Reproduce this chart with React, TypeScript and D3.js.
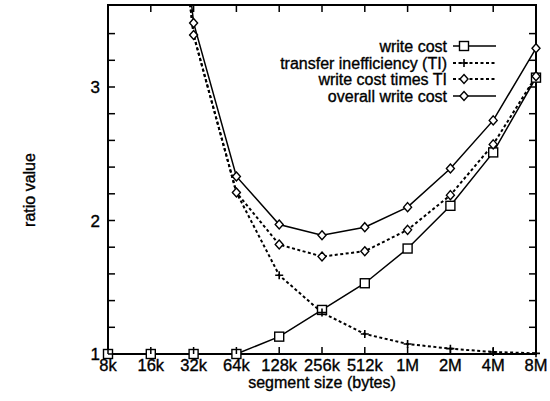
import React from "react";
import * as d3 from "d3";

const categories = ["8k", "16k", "32k", "64k", "128k", "256k", "512k", "1M", "2M", "4M", "8M"];
const writeCost = [1.0, 1.0, 1.0, 1.0, 1.13, 1.33, 1.53, 1.79, 2.11, 2.51, 3.07];
const transferIneff = [12.0, 6.2, 3.39, 2.21, 1.59, 1.31, 1.15, 1.075, 1.04, 1.015, 1.005];
const writeCostTimesTI = [12.0, 6.2, 3.39, 2.21, 1.82, 1.73, 1.77, 1.93, 2.19, 2.57, 3.08];
const overallWriteCost = [12.4, 6.4, 3.48, 2.33, 1.97, 1.89, 1.95, 2.1, 2.39, 2.75, 3.29];
const yLabeledTicks = [1, 2, 3];
const yMinorTicks = [1.2, 1.4, 1.6, 1.8, 2.2, 2.4, 2.6, 2.8, 3.2, 3.4];

const series = [
  { name: "write cost", values: writeCost, marker: "square", dash: null },
  { name: "transfer inefficiency (TI)", values: transferIneff, marker: "plus", dash: "3,2.5" },
  { name: "write cost times TI", values: writeCostTimesTI, marker: "diamond", dash: "3,2.5" },
  { name: "overall write cost", values: overallWriteCost, marker: "diamond", dash: null },
];

const L = 108, R = 536, T = 5, B = 354;
const FONT = "'Liberation Sans', Arial, Helvetica, sans-serif";
const TXT = { fontFamily: FONT, fill: "black", stroke: "black", strokeWidth: 0.35 };

function Marker({ type, x, y }: { type: string; x: number; y: number }) {
  if (type === "square")
    return <rect x={x - 4.5} y={y - 4.5} width={9} height={9} fill="white" stroke="black" strokeWidth={1.4} />;
  if (type === "diamond")
    return <path d={`M${x},${y - 4.5}L${x + 4},${y}L${x},${y + 4.5}L${x - 4},${y}Z`} fill="white" stroke="black" strokeWidth={1.4} />;
  return <path d={`M${x - 4},${y}H${x + 4}M${x},${y - 4}V${y + 4}`} stroke="black" strokeWidth={1.6} />;
}

export default function App() {
  const x = d3.scalePoint<string>().domain(categories).range([L, R]);
  const y = d3.scaleLinear().domain([1, 3]).range([B, 87]);
  const yMax = y.invert(T);
  const line = d3
    .line<number>()
    .x((_, i) => x(categories[i]) as number)
    .y((v) => y(v));

  const legendRows = [46, 63, 79, 96];

  return (
    <svg width={550} height={401} style={{ position: "absolute", left: 0, top: 0 }}>
      <defs>
        <clipPath id="plot">
          <rect x={L} y={T} width={R - L} height={B - T} />
        </clipPath>
      </defs>
      <rect width={550} height={401} fill="white" />
      <g clipPath="url(#plot)">
        {series.map((s) => (
          <path
            key={s.name}
            d={line(s.values) || ""}
            fill="none"
            stroke="black"
            strokeWidth={s.dash ? 2 : 1.5}
            strokeDasharray={s.dash || undefined}
          />
        ))}
      </g>
      {/* frame */}
      <rect x={L} y={T} width={R - L} height={B - T} fill="none" stroke="black" strokeWidth={2} />
      {series.map((s) =>
        s.values.map((v, i) =>
          v <= yMax ? (
            <Marker key={s.name + i} type={s.marker} x={x(categories[i]) as number} y={y(v)} />
          ) : null
        )
      )}
      {/* x ticks */}
      {categories.map((c) => {
        const xx = x(c) as number;
        return (
          <g key={c}>
            <line x1={xx} x2={xx} y1={B} y2={B - 7} stroke="black" strokeWidth={1.5} />
            <line x1={xx} x2={xx} y1={T} y2={T + 7} stroke="black" strokeWidth={1.5} />
            <text x={xx} y={371} textAnchor="middle" fontSize={16.5} {...TXT}>
              {c}
            </text>
          </g>
        );
      })}
      {/* y ticks */}
      {[...yLabeledTicks, ...yMinorTicks].map((t) => (
        <g key={t}>
          <line x1={L} x2={L + 7} y1={y(t)} y2={y(t)} stroke="black" strokeWidth={1.5} />
          <line x1={R} x2={R - 7} y1={y(t)} y2={y(t)} stroke="black" strokeWidth={1.5} />
        </g>
      ))}
      {yLabeledTicks.map((t) => (
        <text key={"l" + t} x={100} y={y(t)} dy="0.36em" textAnchor="end" fontSize={17} {...TXT}>
          {t}
        </text>
      ))}
      <text x={322} y={388} textAnchor="middle" fontSize={16} {...TXT}>
        segment size (bytes)
      </text>
      <text transform="translate(35,190) rotate(-90)" textAnchor="middle" fontSize={16} {...TXT}>
        ratio value
      </text>
      {/* legend */}
      {series.map((s, i) => (
        <g key={"lg" + s.name}>
          <text x={447} y={legendRows[i]} dy="0.35em" textAnchor="end" fontSize={16} {...TXT}>
            {s.name}
          </text>
          <line
            x1={453}
            x2={496}
            y1={legendRows[i]}
            y2={legendRows[i]}
            stroke="black"
            strokeWidth={s.dash ? 2 : 1.5}
            strokeDasharray={s.dash || undefined}
          />
          <Marker type={s.marker} x={464} y={legendRows[i]} />
        </g>
      ))}
    </svg>
  );
}
